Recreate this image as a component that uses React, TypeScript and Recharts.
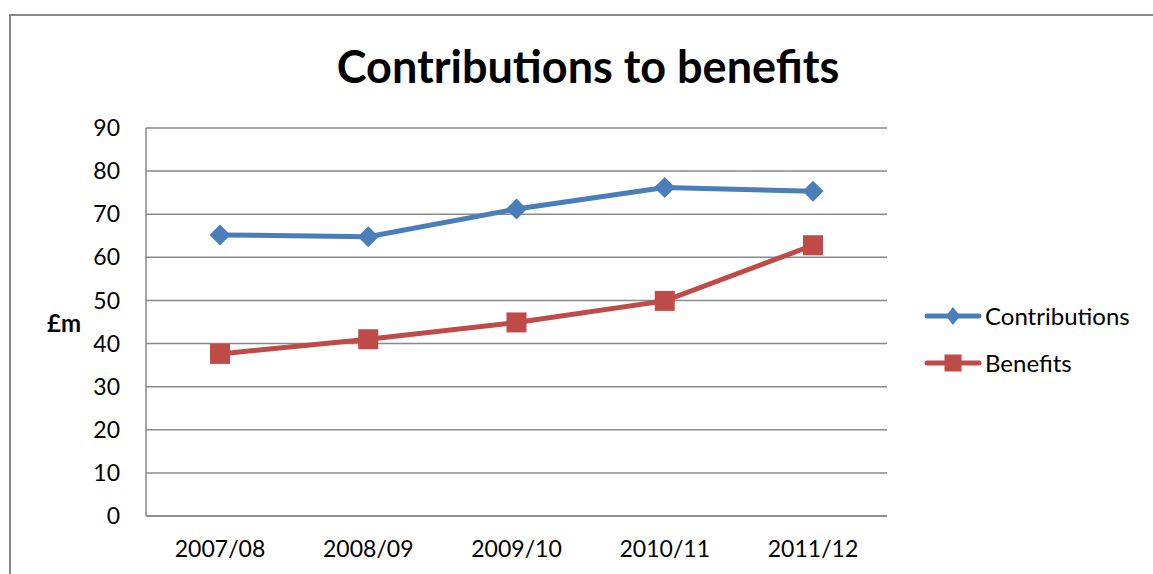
import { CartesianGrid, Line, LineChart, XAxis, YAxis } from 'recharts'

const YEARS = ['2007/08', '2008/09', '2009/10', '2010/11', '2011/12']
const CONTRIBUTIONS = [65.2, 64.8, 71.2, 76.2, 75.3]
const BENEFITS = [37.6, 41.0, 44.9, 49.9, 62.8]
const Y_TICKS = [0, 10, 20, 30, 40, 50, 60, 70, 80, 90]

const COLOR_CONTRIB = '#4a7ebb'
const COLOR_BENEFIT = '#be4b48'
const GRID = '#898989'
const FONT = 'Lato, "Open Sans", sans-serif'

const data = YEARS.map((year, i) => ({
  year,
  contributions: CONTRIBUTIONS[i],
  benefits: BENEFITS[i],
}))

// Line hands its own `r` to custom dots, so the marker size lives in `half`
function DiamondDot({ cx, cy, half = 10.5 }: any) {
  if (cx == null || cy == null) return null
  return (
    <path
      d={`M${cx},${cy - half} L${cx + half},${cy} L${cx},${cy + half} L${cx - half},${cy} Z`}
      fill={COLOR_CONTRIB}
    />
  )
}

function SquareDot({ cx, cy, side = 20 }: any) {
  if (cx == null || cy == null) return null
  return <rect x={cx - side / 2} y={cy - side / 2} width={side} height={side} fill={COLOR_BENEFIT} />
}

function LegendRow({ label, color, square }: { label: string; color: string; square?: boolean }) {
  return (
    <div style={{ display: 'flex', alignItems: 'center', height: 26 }}>
      <svg width={58} height={26} style={{ marginRight: 3 }}>
        <line x1={3} y1={13} x2={55} y2={13} stroke={color} strokeWidth={5} strokeLinecap="round" />
        {square ? (
          <rect x={20.5} y={4.5} width={17} height={17} fill={color} />
        ) : (
          <path d="M29,4 L36,13 L29,22 L22,13 Z" fill={color} />
        )}
      </svg>
      <span>{label}</span>
    </div>
  )
}

export default function App() {
  return (
    <div
      style={{
        position: 'absolute',
        left: 0,
        top: 0,
        width: 1153,
        height: 574,
        overflow: 'hidden',
        background: '#fff',
        fontFamily: FONT,
      }}
    >
      {/* chart frame, runs off the right and bottom edges */}
      <div
        style={{
          position: 'absolute',
          left: 9,
          top: 14,
          width: 1200,
          height: 600,
          border: `2px solid ${GRID}`,
        }}
      />
      <div
        style={{
          position: 'absolute',
          left: 0,
          width: 1176,
          top: 36,
          textAlign: 'center',
          fontSize: 45,
          fontWeight: 700,
          lineHeight: '60px',
          color: '#000',
        }}
      >
        Contributions to benefits
      </div>
      <div
        style={{
          position: 'absolute',
          left: 47,
          top: 308,
          fontSize: 24,
          fontWeight: 700,
          lineHeight: '30px',
        }}
      >
        £m
      </div>
      <div style={{ position: 'absolute', left: 924, top: 303, fontSize: 24, lineHeight: '26px' }}>
        <LegendRow label="Contributions" color={COLOR_CONTRIB} />
        <div style={{ height: 21 }} />
        <LegendRow label="Benefits" color={COLOR_BENEFIT} square />
      </div>
      <div style={{ position: 'absolute', left: 0, top: 0 }}>
        <LineChart
          width={1153}
          height={574}
          data={data}
          margin={{ top: 128, right: 266, bottom: 0, left: 0 }}
        >
          <CartesianGrid stroke={GRID} strokeWidth={1.5} vertical={false} />
          <XAxis
            dataKey="year"
            height={58}
            padding={{ left: 74, right: 74 }}
            stroke={GRID}
            strokeWidth={1.5}
            tickLine={false}
            tickSize={0}
            tickMargin={25}
            tick={{ fill: '#000', fontSize: 23, fontFamily: FONT }}
            interval={0}
          />
          <YAxis
            domain={[0, 90]}
            ticks={Y_TICKS}
            width={146}
            stroke={GRID}
            strokeWidth={1.5}
            tickLine={false}
            tickSize={0}
            tickMargin={26}
            tick={{ fill: '#000', fontSize: 23, fontFamily: FONT }}
            interval={0}
          />
          <Line
            dataKey="contributions"
            stroke={COLOR_CONTRIB}
            strokeWidth={5}
            dot={<DiamondDot />}
            activeDot={false}
            isAnimationActive={false}
          />
          <Line
            dataKey="benefits"
            stroke={COLOR_BENEFIT}
            strokeWidth={5}
            dot={<SquareDot />}
            activeDot={false}
            isAnimationActive={false}
          />
        </LineChart>
      </div>
    </div>
  )
}
